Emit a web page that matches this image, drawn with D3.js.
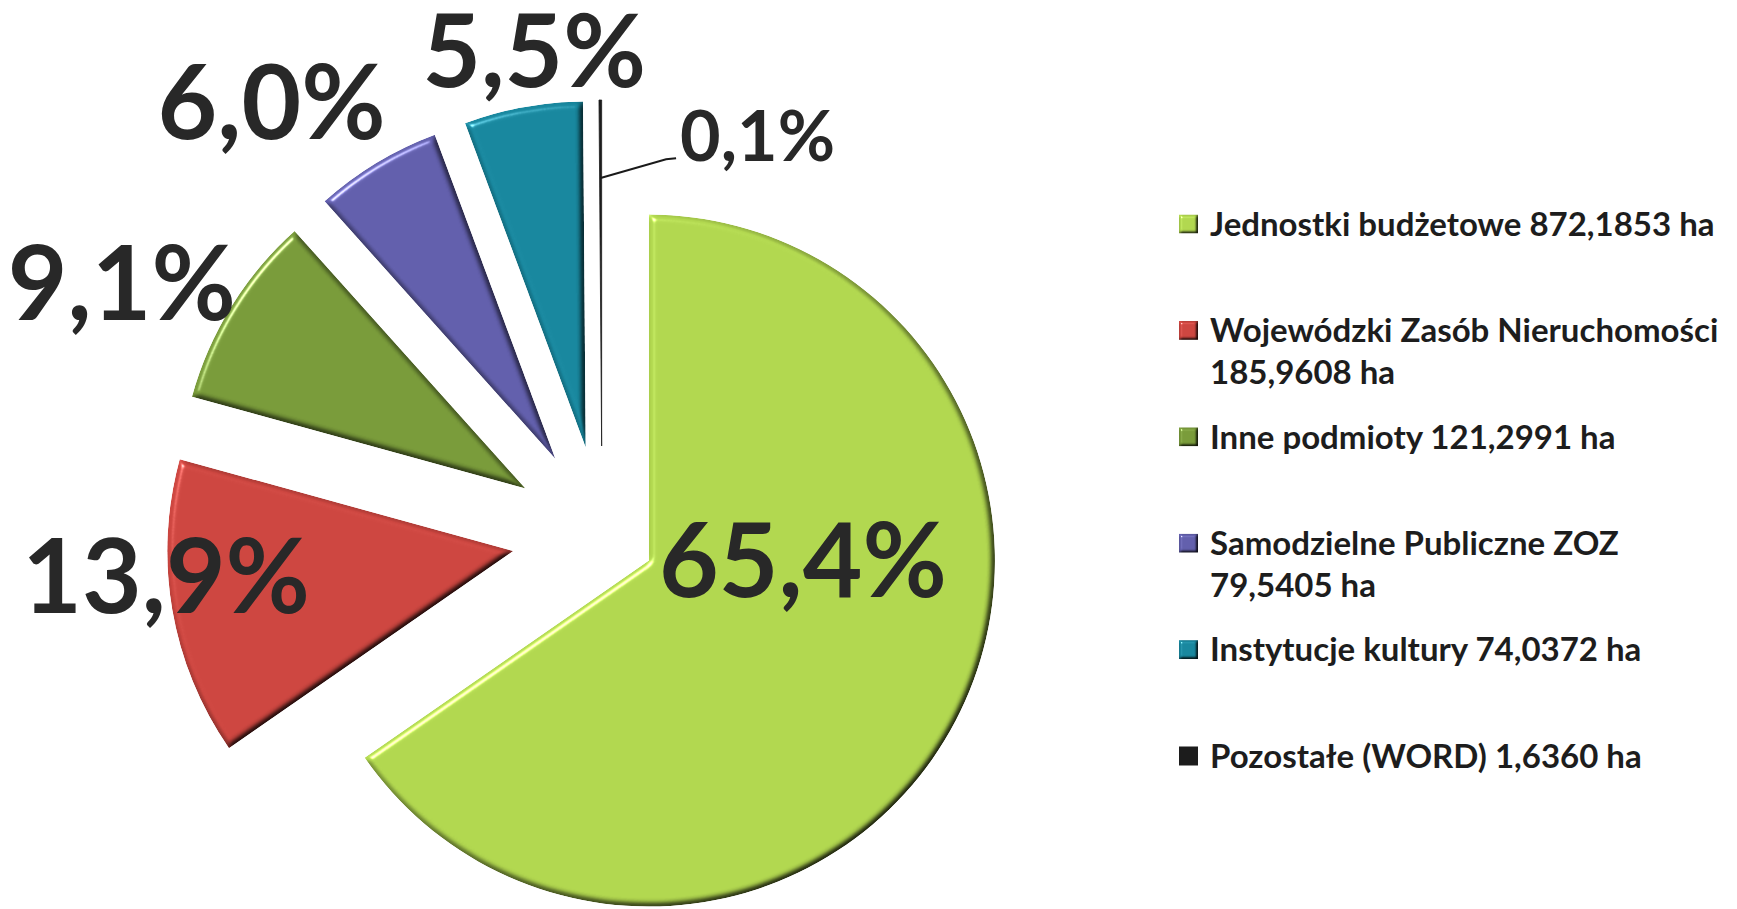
<!DOCTYPE html>
<html>
<head>
<meta charset="utf-8">
<script src="https://cdnjs.cloudflare.com/ajax/libs/d3/7.8.5/d3.min.js"></script>
<style>
  body { margin: 0; background: #fff; }
  svg { display: block; font-family: Lato, 'Open Sans', sans-serif; }
  .slice-label { font-weight: 700; fill: #282828; }
  .legend__label { font-weight: 700; fill: #1d1d1d; }
</style>
</head>
<body>
<script>
const categories = [
  'Jednostki budżetowe',
  'Wojewódzki Zasób Nieruchomości',
  'Inne podmioty',
  'Samodzielne Publiczne ZOZ',
  'Instytucje kultury',
  'Pozostałe (WORD)',
];
const areaHa = [872.1853, 185.9608, 121.2991, 79.5405, 74.0372, 1.636];
const areaText = ['872,1853', '185,9608', '121,2991', '79,5405', '74,0372', '1,6360'];
const percentLabels = ['65,4%', '13,9%', '9,1%', '6,0%', '5,5%', '0,1%'];
const sliceColors = ['#b1d74f', '#cd4640', '#799b3a', '#625fac', '#18879e', '#1c1c1c'];

const config = {
  size: { width: 1737, height: 909 },
  center: { x: 602, y: 536 },
  radius: 346,
  explodeMain: 53,
  explodeRest: 90,
  legend: { x: 1179, textX: 1210, y: 224, step: 106.4, lineGap: 42, box: 19, fontSize: 33 },
};

// where each percentage sits, polar from the slice tip (degrees clockwise from 12 o'clock)
const labelPlacement = [
  { angle: 89.6, dist: 154, size: 103 },
  { angle: 265.9, dist: 348, size: 103 },
  { angle: 297, dist: 453, size: 103 },
  { angle: 321.5, dist: 456, size: 103 },
  { angle: 352.6, dist: 400, size: 101 },
  { angle: 26.7, dist: 347, size: 70 },
];

const svg = d3.select('body').append('svg')
  .attr('width', config.size.width)
  .attr('height', config.size.height);

const defs = svg.append('defs');

function addBevel(id, blur, depth) {
  const f = defs.append('filter').attr('id', id)
    .attr('color-interpolation-filters', 'sRGB')
    .attr('x', '-5%').attr('y', '-5%').attr('width', '110%').attr('height', '110%');
  f.append('feGaussianBlur').attr('in', 'SourceAlpha').attr('stdDeviation', blur).attr('result', 'blur');
  f.append('feDiffuseLighting')
    .attr('in', 'blur').attr('surfaceScale', depth).attr('diffuseConstant', 1.155)
    .attr('lighting-color', '#fff').attr('result', 'diff')
    .append('feDistantLight').attr('azimuth', 225).attr('elevation', 60);
  f.append('feComposite').attr('in', 'SourceGraphic').attr('in2', 'diff')
    .attr('operator', 'arithmetic').attr('k1', 1).attr('k2', 0).attr('k3', 0).attr('k4', 0)
    .attr('result', 'lit');
  f.append('feSpecularLighting')
    .attr('in', 'blur').attr('surfaceScale', depth).attr('specularConstant', 0.6)
    .attr('specularExponent', 40).attr('lighting-color', '#fff').attr('result', 'spec')
    .append('feDistantLight').attr('azimuth', 225).attr('elevation', 35);
  f.append('feComposite').attr('in', 'spec').attr('in2', 'SourceAlpha')
    .attr('operator', 'in').attr('result', 'specIn');
  f.append('feComposite').attr('in', 'lit').attr('in2', 'specIn')
    .attr('operator', 'arithmetic').attr('k1', 0).attr('k2', 1).attr('k3', 1).attr('k4', 0)
    .attr('result', 'sum');
  f.append('feComposite').attr('in', 'sum').attr('in2', 'SourceAlpha').attr('operator', 'in');
}
addBevel('bevel', 3, 5);
addBevel('bevelSmall', 1.6, 3);

const pie = d3.pie().sort(null).value(d => d);
const arcs = pie(areaHa);
const arc = d3.arc().innerRadius(0).outerRadius(config.radius);

const rad = deg => (deg * Math.PI) / 180;
const explodeOf = i => (i === 0 ? config.explodeMain : config.explodeRest);
const tipOf = (d, i) => {
  const mid = (d.startAngle + d.endAngle) / 2;
  return {
    x: config.center.x + explodeOf(i) * Math.sin(mid),
    y: config.center.y - explodeOf(i) * Math.cos(mid),
  };
};

const pieGroup = svg.append('g').attr('class', 'pie');

pieGroup.selectAll('path.slice')
  .data(arcs)
  .enter()
  .append('path')
  .attr('class', 'slice')
  .attr('transform', (d, i) => {
    const t = tipOf(d, i);
    return `translate(${t.x}, ${t.y})`;
  })
  .attr('d', arc)
  .attr('fill', (d, i) => sliceColors[i])
  .attr('stroke', (d, i) => (i === 5 ? sliceColors[i] : 'none'))
  .attr('stroke-width', 0.8)
  .attr('filter', (d, i) => (i === 5 ? null : 'url(#bevel)'));

// percentage labels
const labelGroup = svg.append('g').attr('class', 'labels');
const labelNodes = labelGroup.selectAll('text.slice-label')
  .data(arcs)
  .enter()
  .append('text')
  .attr('class', 'slice-label')
  .attr('text-anchor', 'middle')
  .style('font-size', (d, i) => `${labelPlacement[i].size}px`)
  .attr('x', (d, i) => tipOf(d, i).x + labelPlacement[i].dist * Math.sin(rad(labelPlacement[i].angle)))
  .attr('y', (d, i) => tipOf(d, i).y - labelPlacement[i].dist * Math.cos(rad(labelPlacement[i].angle))
    + 0.36 * labelPlacement[i].size)
  .text((d, i) => percentLabels[i]);

// leader line for the tiny slice
const tiny = arcs[5];
const tinyTip = tipOf(tiny, 5);
const tinyNode = labelNodes.filter((d, i) => i === 5).node();
const tinyBox = tinyNode.getBBox();
const tinyMid = (tiny.startAngle + tiny.endAngle) / 2;
const baseY = +tinyNode.getAttribute('y');
const leader = [
  [tinyTip.x + 268 * Math.sin(tinyMid), tinyTip.y - 268 * Math.cos(tinyMid)],
  [tinyBox.x - 14, baseY - 2],
  [tinyBox.x - 4, baseY - 3],
];
labelGroup.append('path')
  .attr('d', d3.line()(leader))
  .attr('fill', 'none')
  .attr('stroke', '#1a1a1a')
  .attr('stroke-width', 2);

// legend
const lg = config.legend;
const legend = svg.append('g').attr('class', 'legend');
const items = legend.selectAll('g.legend__item')
  .data(categories)
  .enter()
  .append('g')
  .attr('class', 'legend__item')
  .attr('transform', (d, i) => `translate(0, ${lg.y + i * lg.step})`);

items.append('rect')
  .attr('x', lg.x)
  .attr('y', -lg.box / 2)
  .attr('width', lg.box)
  .attr('height', lg.box)
  .attr('fill', (d, i) => sliceColors[i])
  .attr('filter', (d, i) => (i === 5 ? null : 'url(#bevelSmall)'));

items.each(function (name, i) {
  const lines = name.length > 24
    ? [name, `${areaText[i]} ha`]
    : [`${name} ${areaText[i]} ha`];
  const text = d3.select(this).append('text')
    .attr('class', 'legend__label')
    .style('font-size', `${lg.fontSize}px`);
  lines.forEach((line, j) => {
    text.append('tspan')
      .attr('x', lg.textX)
      .attr('y', j * lg.lineGap + 0.36 * lg.fontSize)
      .text(line);
  });
});
</script>
</body>
</html>
